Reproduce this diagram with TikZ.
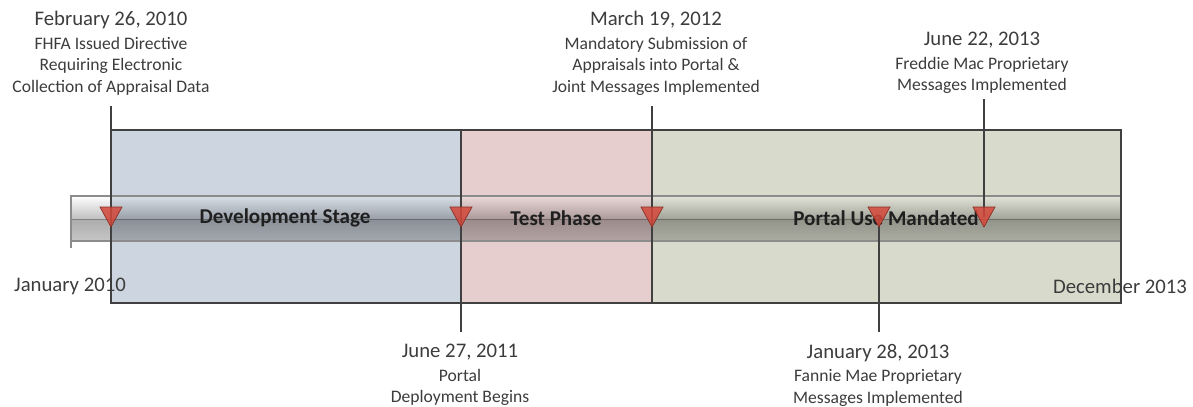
\documentclass[tikz,border=0pt]{standalone}
\usepackage{fontspec}
\setmainfont{Carlito}
\usetikzlibrary{positioning}
\definecolor{devfill}{HTML}{CDD5E0}
\definecolor{testfill}{HTML}{E6CDCE}
\definecolor{portfill}{HTML}{D8DBCC}
\definecolor{mkred}{HTML}{D4483A}
\definecolor{txtgray}{HTML}{3C3C3C}
\newcommand\datesize{\fontsize{11.8}{13.5}\selectfont}

\begin{document}
\begin{tikzpicture}[x=0.02cm,y=-0.02cm,
  event/.style={align=center,inner sep=0pt,text=txtgray,font=\fontsize{10}{12.3}\selectfont},
  edge label/.style={inner sep=0pt,text=txtgray,font=\datesize},
  phase/.style={inner sep=0pt,text=black!88,font=\fontsize{12}{14}\selectfont\bfseries},
  stem/.style={draw=black!75,line width=0.6pt},
  marker/.style={fill=mkred,draw=mkred!65!black,fill opacity=0.85,line width=0.4pt}]

  \useasboundingbox (0,0) rectangle (1193,406);

  % phases
  \fill[devfill] (111,130) rectangle (461,303);
  \fill[testfill] (461,130) rectangle (652,303);
  \fill[portfill] (652,130) rectangle (1121,303);

  % time bar
  \shade[top color=white,bottom color=black,opacity=0.25] (71,196) rectangle (1121,219);
  \shade[top color=black,bottom color=black!70,opacity=0.32] (71,219) rectangle (1121,241);
  \draw[black!45,line width=0.6pt] (71,196) rectangle (1121,241);
  \draw[black!45,line width=0.6pt] (71,241) -- (71,248);

  \draw[stem] (111,130) rectangle (1121,303);
  \draw[stem] (461,130) -- (461,303);
  \draw[stem] (652,130) -- (652,303);

  \node[phase] (dev) at (285,218) {Development Stage};
  \node[phase] (test) at (556,218) {Test Phase};
  \node[phase] (portal) at (886,218) {Portal Use Mandated};

  \node[edge label] (start) at (70,286) {January 2010};
  \node[edge label] (end) at (1120,286) {December 2013};

  % events
  \coordinate (febmk) at (111,217);
  \coordinate (junmk) at (461,217);
  \coordinate (marmk) at (652,217);
  \coordinate (janmk) at (879,217);
  \coordinate (jnemk) at (984,217);

  \node[event,anchor=north] (feb) at (111,11) {{\datesize February 26, 2010}\\[1pt]FHFA Issued Directive\\Requiring Electronic\\Collection of Appraisal Data};
  \node[event,anchor=north] (mar) at (656,11) {{\datesize March 19, 2012}\\[1pt]Mandatory Submission of\\Appraisals into Portal \&\\Joint Messages Implemented};
  \node[event,anchor=north] (jne) at (982,32) {{\datesize June 22, 2013}\\[1pt]Freddie Mac Proprietary\\Messages Implemented};
  \node[event,anchor=north] (jun) at (460,344) {{\datesize June 27, 2011}\\[1pt]Portal\\Deployment Begins};
  \node[event,anchor=north] (jan) at (878,344) {{\datesize January 28, 2013}\\[1pt]Fannie Mae Proprietary\\Messages Implemented};

  \draw[stem,shorten <=6pt] (feb.south -| febmk) -- (febmk);
  \draw[stem,shorten <=6pt] (mar.south -| marmk) -- (marmk);
  \draw[stem,shorten <=3pt] (jne.south -| jnemk) -- (jnemk);
  \draw[stem,shorten <=7pt] (jun.north -| junmk) -- (junmk);
  \draw[stem,shorten <=7pt] (jan.north -| janmk) -- (janmk);

  \foreach \m in {febmk,junmk,marmk,janmk,jnemk}
    \filldraw[marker] (\m) ++(-11,-10) -- ++(22,0) -- ++(-11,20) -- cycle;
\end{tikzpicture}
\end{document}
